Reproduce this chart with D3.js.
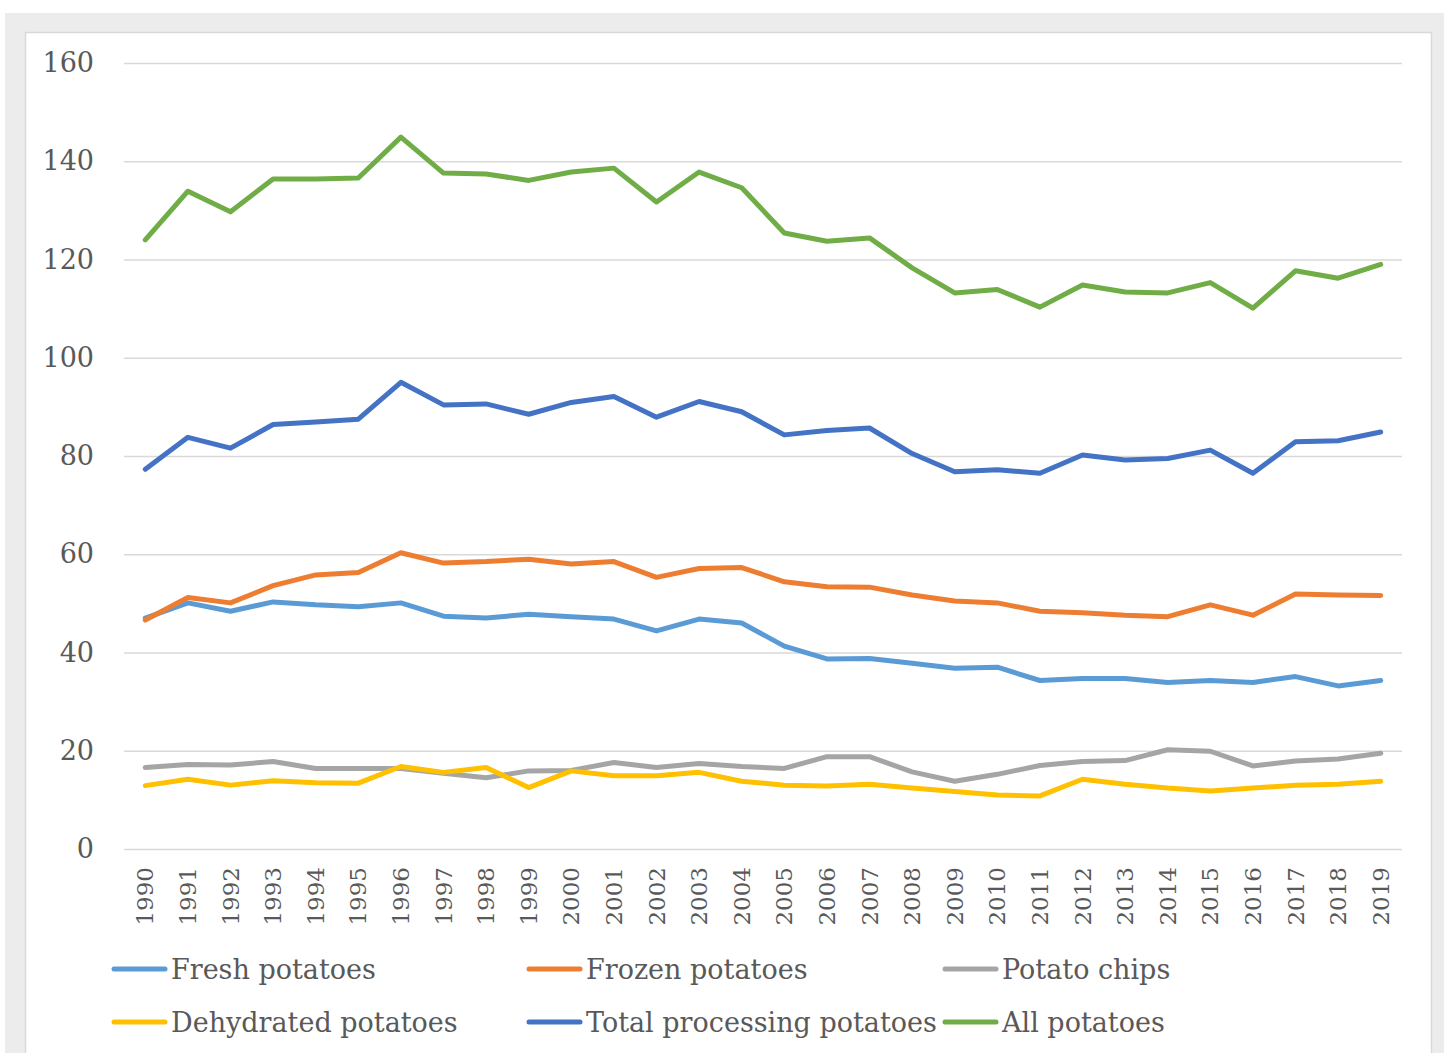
<!DOCTYPE html>
<html>
<head>
<meta charset="utf-8">
<script src="https://cdn.jsdelivr.net/npm/d3@7/dist/d3.min.js"></script>
<style>
  html, body { margin: 0; padding: 0; background: #ffffff; }
  svg { display: block; }
  text { font-family: "DejaVu Serif", serif; fill: #595959; }
</style>
</head>
<body>
<svg id="chart" width="1444" height="1053"></svg>
<script>
const years = [1990,1991,1992,1993,1994,1995,1996,1997,1998,1999,2000,2001,2002,2003,2004,2005,2006,2007,2008,2009,2010,2011,2012,2013,2014,2015,2016,2017,2018,2019];

const freshPotatoes = [47.0,50.1,48.4,50.3,49.7,49.3,50.1,47.4,47.0,47.8,47.3,46.8,44.4,46.8,46.0,41.3,38.7,38.8,37.8,36.8,37.0,34.3,34.7,34.7,33.9,34.3,33.9,35.1,33.2,34.3];
const frozenPotatoes = [46.6,51.2,50.1,53.6,55.8,56.3,60.3,58.2,58.5,59.0,58.0,58.5,55.3,57.1,57.3,54.4,53.4,53.3,51.7,50.5,50.1,48.4,48.1,47.6,47.3,49.7,47.6,51.9,51.7,51.6];
const potatoChips = [16.6,17.2,17.1,17.8,16.4,16.4,16.4,15.4,14.5,15.9,16.0,17.6,16.6,17.4,16.8,16.4,18.8,18.8,15.7,13.8,15.2,17.0,17.8,18.0,20.2,19.9,16.9,17.9,18.3,19.5];
const dehydratedPotatoes = [12.9,14.2,13.0,13.9,13.5,13.4,16.8,15.6,16.6,12.5,15.9,14.9,14.9,15.6,13.8,13.0,12.8,13.2,12.4,11.7,11.0,10.8,14.2,13.2,12.4,11.8,12.4,13.0,13.2,13.8];
const totalProcessing = [77.3,83.8,81.6,86.4,86.9,87.5,95.0,90.4,90.6,88.5,90.9,92.1,87.9,91.1,89.0,84.3,85.2,85.7,80.5,76.8,77.2,76.5,80.2,79.2,79.5,81.2,76.5,82.9,83.1,84.9];
const allPotatoes = [124.0,133.9,129.7,136.4,136.4,136.6,144.9,137.6,137.4,136.1,137.8,138.6,131.7,137.8,134.6,125.4,123.7,124.4,118.3,113.2,113.9,110.3,114.8,113.4,113.2,115.3,110.1,117.7,116.2,119.0];

const seriesNames = ["Fresh potatoes","Frozen potatoes","Potato chips","Dehydrated potatoes","Total processing potatoes","All potatoes"];
const seriesColors = ["#5B9BD5","#ED7D31","#A5A5A5","#FFC000","#4472C4","#70AD47"];
const seriesValues = [freshPotatoes, frozenPotatoes, potatoChips, dehydratedPotatoes, totalProcessing, allPotatoes];
const yTicks = [0,20,40,60,80,100,120,140,160];

const svg = d3.select("#chart");

// frame
svg.append("rect").attr("x", 5).attr("y", 13).attr("width", 1444).attr("height", 1053).attr("fill", "#ececec");
svg.append("rect").attr("x", 25.5).attr("y", 32.5).attr("width", 1406).attr("height", 1040)
  .attr("fill", "#ffffff").attr("stroke", "#d9d9d9").attr("stroke-width", 1.5);

const x = d3.scaleBand().domain(years).range([124, 1402]);
const y = d3.scaleLinear().domain([0, 160]).range([849, 63]);

// gridlines + y labels
const yAxis = d3.axisLeft(y).tickValues(yTicks).tickSize(-(1402 - 124)).tickPadding(30);
const gy = svg.append("g").attr("transform", "translate(124,0)").call(yAxis);
gy.select(".domain").remove();
gy.selectAll(".tick line").attr("stroke", "#d9d9d9").attr("stroke-width", 1.5);
gy.selectAll(".tick text").attr("font-size", 27).attr("fill", "#595959")
  .attr("font-family", "DejaVu Serif, serif").attr("x", -30);

// x axis labels
const xAxis = d3.axisBottom(x).tickSize(0).tickPadding(0);
const gx = svg.append("g").attr("transform", "translate(0,849)").call(xAxis);
gx.select(".domain").remove();
gx.selectAll(".tick text")
  .attr("font-size", 23).attr("fill", "#595959").attr("font-family", "DejaVu Serif, serif")
  .attr("transform", "rotate(-90)")
  .attr("text-anchor", "end")
  .attr("x", -18).attr("y", 0).attr("dy", "0.35em");

// lines
const line = d3.line()
  .x((d, i) => x(years[i]) + x.bandwidth() / 2)
  .y(d => y(d));

seriesValues.forEach((vals, k) => {
  svg.append("path")
    .datum(vals)
    .attr("d", line)
    .attr("fill", "none")
    .attr("stroke", seriesColors[k])
    .attr("stroke-width", 5)
    .attr("stroke-linejoin", "round")
    .attr("stroke-linecap", "round");
});

// legend
const legendCols = [112, 527, 943];
const legendRows = [969, 1022];
seriesNames.forEach((name, k) => {
  const cx = legendCols[k % 3];
  const cy = legendRows[Math.floor(k / 3)];
  const g = svg.append("g").attr("transform", `translate(${cx},${cy})`);
  g.append("line").attr("x1", 2).attr("x2", 53).attr("y1", 0).attr("y2", 0)
    .attr("stroke", seriesColors[k]).attr("stroke-width", 5).attr("stroke-linecap", "round");
  g.append("text").attr("x", 59).attr("y", 0).attr("dy", "0.36em")
    .attr("font-size", 27).text(name);
});
</script>
</body>
</html>
